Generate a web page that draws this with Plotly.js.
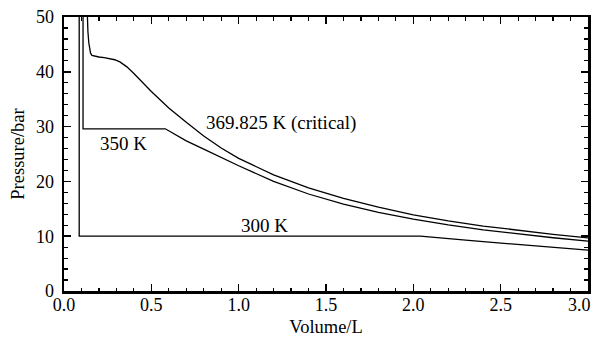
<!DOCTYPE html>
<html>
<head>
<meta charset="utf-8">
<script src="https://cdn.plot.ly/plotly-3.0.1.min.js"></script>
<style>html,body{margin:0;padding:0;background:#fff;}#chart{width:595px;height:339px;}</style>
</head>
<body>
<div id="chart"></div>
<script>
// Isotherm data (Volume in L, Pressure in bar)
const V300 = [0.087, 0.087, 2.04, 2.1, 2.2, 2.3, 2.4, 2.5, 2.6, 2.7, 2.8, 2.9, 3.0];
const P300 = [53, 10.0, 10.0, 9.86, 9.58, 9.3, 9.0, 8.72, 8.47, 8.22, 7.98, 7.72, 7.45];

const V350 = [0.109, 0.109, 0.58, 0.6, 0.7, 0.8, 0.9, 1.0, 1.2, 1.4, 1.6, 1.8, 2.0, 2.2, 2.4, 2.6, 2.8, 3.0];
const P350 = [53, 29.6, 29.6, 29.25, 27.4, 25.9, 24.3, 22.85, 20.0, 17.7, 15.85, 14.35, 13.1, 12.05, 11.15, 10.4, 9.72, 9.1];

const Vcrit = [0.131, 0.133, 0.137, 0.142, 0.147, 0.152, 0.16, 0.18, 0.2, 0.23, 0.26, 0.29, 0.32, 0.36, 0.4, 0.45, 0.5, 0.55, 0.6, 0.7, 0.8, 0.9, 1.0, 1.2, 1.4, 1.6, 1.8, 2.0, 2.2, 2.4, 2.6, 2.8, 3.0];
const Pcrit = [53, 50, 47.3, 45.3, 44.1, 43.4, 43.0, 42.8, 42.7, 42.6, 42.45, 42.2, 41.8, 40.9, 39.7, 38.0, 36.4, 34.9, 33.4, 30.8, 28.3, 26.1, 24.2, 21.2, 18.8, 16.9, 15.3, 13.9, 12.8, 11.85, 11.05, 10.35, 9.7];

// Axis ticks
const xTickVals = [0, 0.5, 1.0, 1.5, 2.0, 2.5, 3.0];
const xTickText = ["0.0", "0.5", "1.0", "1.5", "2.0", "2.5", ""];
const xLastTick = "3.0"; // drawn as an annotation so it stays inside the page
const yTickVals = [0, 10, 20, 30, 40, 50];

const labels = ["300 K", "350 K", "369.825 K (critical)"];
const labelX = [1.003, 0.197, 0.803];
const labelY = [11.9, 27.0, 30.7];

const FONT = "Liberation Serif";
const line = {color: "#000", width: 1.3};

const traces = [
  {x: V300, y: P300, mode: "lines", line: line, name: labels[0]},
  {x: V350, y: P350, mode: "lines", line: line, name: labels[1]},
  {x: Vcrit, y: Pcrit, mode: "lines", line: line, name: labels[2]}
];

const annotations = labels.map((t, i) => ({
  x: labelX[i], y: labelY[i], xref: "x", yref: "y", text: t, showarrow: false,
  xanchor: "left", yanchor: "middle", font: {family: FONT, size: 19, color: "#000"}
}));
annotations.push({
  x: xTickVals[xTickVals.length - 1], y: 0, xref: "x", yref: "paper", text: xLastTick,
  showarrow: false, xanchor: "right", yanchor: "middle", xshift: 5, yshift: -14,
  font: {family: FONT, size: 18, color: "#000"}
});

const axisCommon = {
  showgrid: false, zeroline: false, showline: true, linecolor: "#000", linewidth: 2.5,
  mirror: "allticks", ticks: "inside", ticklen: 7, tickwidth: 1.5, tickcolor: "#000",
  tickfont: {family: FONT, size: 18, color: "#000"}
};

const layout = {
  width: 595, height: 339,
  margin: {l: 64, r: 7, t: 17, b: 48},
  paper_bgcolor: "#fff", plot_bgcolor: "#fff",
  showlegend: false,
  font: {family: FONT, color: "#000"},
  xaxis: Object.assign({}, axisCommon, {
    range: [0, 3.0], tickmode: "array", tickvals: xTickVals, ticktext: xTickText,
    ticklabelstandoff: -4,
    minor: {dtick: 0.1, tick0: 0, ticks: "inside", ticklen: 3.5, tickwidth: 1.2, tickcolor: "#000"},
    title: {text: "Volume/L", font: {family: FONT, size: 18.5, color: "#000"}, standoff: 6}
  }),
  yaxis: Object.assign({}, axisCommon, {
    range: [0, 50], tickmode: "array", tickvals: yTickVals, ticktext: yTickVals.map(String),
    ticklabelstandoff: 4,
    minor: {dtick: 2, tick0: 0, ticks: "inside", ticklen: 4, tickwidth: 1.2, tickcolor: "#000"},
    title: {text: "Pressure/bar", font: {family: FONT, size: 18.5, color: "#000"}, standoff: 7}
  }),
  annotations: annotations
};

Plotly.newPlot("chart", traces, layout, {displayModeBar: false, staticPlot: true});
</script>
</body>
</html>
